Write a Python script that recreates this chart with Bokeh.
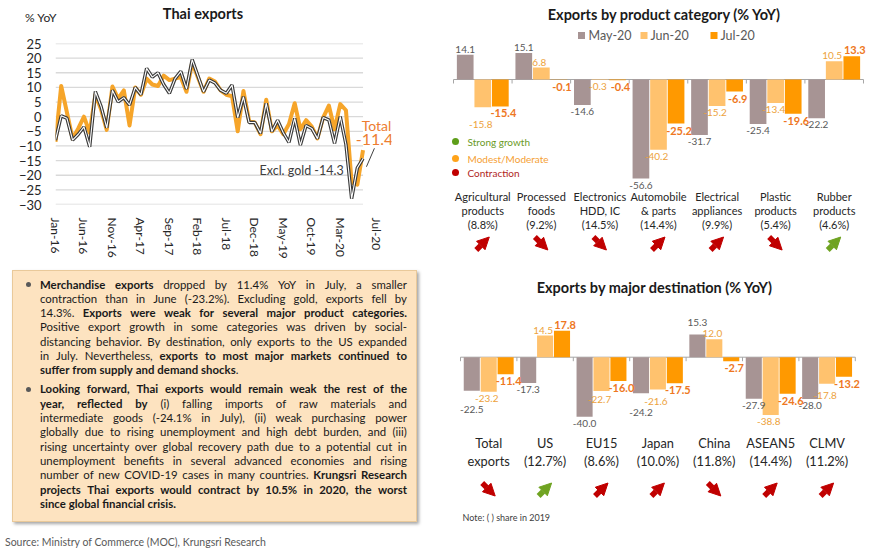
import html
import pandas as pd
from bokeh.plotting import figure
from bokeh.models import Range1d, FixedTicker, Arrow, NormalHead, Div
from bokeh.layouts import row, column
from bokeh.embed import file_html
from bokeh.resources import INLINE
from bokeh.core.properties import value

FONT = "Lato"

# ---------------- data ----------------
months = list(pd.date_range("2016-01-01", periods=55, freq="MS").strftime("%b-%y"))
total_exports = [
    -8.6, 10.5, 1.5, -7.5, -4.0, 0.0, -5.5, 7.5, 2.5, -4.5,
    10.3, 6.2, 9.0, -3.0, 10.0, 7.5, 13.0, 11.0, 10.5, 14.0,
    12.5, 13.0, 13.5, 8.5, 18.5, 13.5, 8.5, 13.0, 12.0, 9.0,
    7.5, 7.0, -5.0, 8.8, -1.5, -2.0, -6.0, 5.8, -5.0, -3.0,
    -6.0, -2.5, 4.6, -4.3, -1.2, -3.4, -7.4, -0.3, 3.8, -4.3,
    4.3, 2.2, -22.5, -23.2, -11.4]
excl_gold = [
    -8.0, 0.3, -0.5, -8.0, -6.0, -3.5, -10.3, 8.6, 3.5, -3.8,
    9.0, 5.1, 6.5, 4.0, 10.0, 7.5, 16.5, 13.5, 15.0, 11.0,
    8.0, 13.0, 15.5, 9.5, 19.5, 14.0, 8.5, 12.5, 11.5, 9.0,
    8.0, 10.8, -0.3, 6.8, -2.0, -2.0, -5.7, 4.6, -5.1, -1.2,
    -5.5, -8.8, -0.6, -9.7, -3.0, -4.0, -7.5, -0.3, -1.1, -9.1,
    0.0, -9.5, -28.0, -17.5, -14.3]

series_names = ["May-20", "Jun-20", "Jul-20"]

prod_names = [["Agricultural", "products"], ["Processed", "foods"], ["Electronics", "HDD, IC"],
              ["Automobile", "& parts"], ["Electrical", "appliances"], ["Plastic", "products"],
              ["Rubber", "products"]]
prod_share = ["8.8%", "9.2%", "14.5%", "14.4%", "9.9%", "5.4%", "4.6%"]
prod_may = [14.1, 15.1, -14.6, -56.6, -31.7, -25.4, -22.2]
prod_jun = [-15.8, 6.8, -0.3, -40.2, -15.2, -13.4, 10.5]
prod_jul = [-15.4, -0.1, -0.4, -25.2, -6.9, -19.6, 13.3]
prod_signal = ["Contraction"] * 6 + ["Strong growth"]
prod_dir = ["up", "down", "down", "up", "up", "down", "up"]

dest_names = [["Total", "exports"], ["US"], ["EU15"], ["Japan"], ["China"], ["ASEAN5"], ["CLMV"]]
dest_share = [None, "12.7%", "8.6%", "10.0%", "11.8%", "14.4%", "11.2%"]
dest_may = [-22.5, -17.3, -40.0, -24.2, 15.3, -27.9, -28.0]
dest_jun = [-23.2, 14.5, -22.7, -21.6, 12.0, -38.8, -17.8]
dest_jul = [-11.4, 17.8, -16.0, -17.5, -2.7, -24.6, -13.2]
dest_signal = ["Contraction", "Strong growth", "Contraction", "Contraction", "Contraction",
               "Contraction", "Contraction"]
dest_dir = ["down", "up", "up", "up", "down", "up", "up"]

signal_names = ["Strong growth", "Modest/Moderate", "Contraction"]

# ---------------- styles ----------------
C_MAY, C_JUN, C_JUL = "#A79494", "#FFC26E", "#FF9900"
T_MAY, T_JUN, T_JUL = "#595959", "#EDA23C", "#EE7722"
SIG_DOT = {"Strong growth": "#5E9E1A", "Modest/Moderate": "#FFA31A", "Contraction": "#C00000"}
SIG_TXT = {"Strong growth": "#6A9A1F", "Modest/Moderate": "#F5A034", "Contraction": "#B01E23"}
ARROW_C = {"Strong growth": "#6FA321", "Contraction": "#C00000", "Modest/Moderate": "#FFA31A"}
ORANGE = "#F6A52A"

LEFT_W, RIGHT_W = 440, 426

# ================= line chart header (html) =================
HH = 35
header = Div(text=(
    f'<div style="position:relative;width:{LEFT_W}px;height:{HH}px;font-family:{FONT};">'
    f'<div style="position:absolute;left:0;width:406px;top:6px;text-align:center;font-weight:700;'
    f'font-size:14.5px;line-height:16px;color:#1A1A1A;">Thai exports</div>'
    f'<div style="position:absolute;left:25px;top:11px;font-size:12px;line-height:14px;color:#262626;'
    f'white-space:nowrap;">% YoY</div></div>'), width=LEFT_W, height=HH, margin=0)

# ================= line chart =================
H1 = 231
BL, BR, BT, BB = 55, 49, 8, 62
n = len(months)
XMAX = 59
p1 = figure(width=LEFT_W, height=H1, x_range=Range1d(0, XMAX), y_range=Range1d(-30, 25),
            output_backend="svg", toolbar_location=None,
            min_border_left=BL, min_border_right=BR, min_border_top=BT, min_border_bottom=BB)
p1.grid.visible = False
p1.outline_line_color = None
sx = (LEFT_W - BL - BR) / XMAX
sy = (H1 - BT - BB) / 55.0
FL, FT = BL, HH + BT


def LX(img_x):
    return (img_x - FL) / sx


def LY(img_y):
    return 25 - (img_y - FT) / sy


yt = list(range(-30, 26, 5))
p1.segment(x0=[0] * len(yt), y0=yt, x1=[n - 1] * len(yt), y1=yt, line_color="#D9D9D9", line_width=1.3)
xs = list(range(n))
p1.line(xs, total_exports, line_color=ORANGE, line_width=4, line_join="round")
p1.line(xs, excl_gold, line_color="#3A3A3A", line_width=3.4)
p1.line(xs, excl_gold, line_color="white", line_width=1.1)
p1.line([n - 1 + 0.6, n - 1 + 2.0], [-17.1, -10.8], line_color="#404040", line_width=1)

p1.yaxis.ticker = FixedTicker(ticks=yt)
p1.yaxis.axis_line_color = None
p1.yaxis.major_tick_line_color = None
p1.yaxis.minor_tick_line_color = None
p1.yaxis.major_label_text_font = FONT
p1.yaxis.major_label_text_font_size = "13px"
p1.yaxis.major_label_text_color = "#262626"
p1.yaxis.major_label_standoff = 8

xt = list(range(0, n - 4, 5))
jul_pos = n + 1.3
p1.xaxis.ticker = FixedTicker(ticks=xt + [jul_pos])
ov = {t: months[t] for t in xt}
ov[jul_pos] = months[-1]
p1.xaxis.major_label_overrides = ov
p1.xaxis.major_label_orientation = "vertical"
p1.xaxis.axis_line_color = None
p1.xaxis.major_tick_line_color = None
p1.xaxis.minor_tick_line_color = None
p1.xaxis.major_label_text_font = FONT
p1.xaxis.major_label_text_font_size = "12px"
p1.xaxis.major_label_text_color = "#262626"
p1.xaxis.major_label_standoff = 7

p1.text(x=[LX(376)], y=[LY(125)], text=["Total"], text_align="center", text_baseline="middle",
        text_font=value(FONT), text_font_size="14px", text_color="#ED7D31")
p1.text(x=[LX(374)], y=[LY(139)], text=[f"{total_exports[-1]:.1f}"], text_align="center",
        text_baseline="middle", text_font=value(FONT), text_font_size="16px", text_color="#ED7D31")
p1.text(x=[LX(259)], y=[LY(170)], text=[f"Excl. gold {excl_gold[-1]:.1f}"], text_align="left",
        text_baseline="middle", text_font=value(FONT), text_font_size="12.5px", text_color="#404040")


# ================= bar panels =================
def text_w(t, fs, bold):
    w = 0.0
    for ch in t:
        w += 0.58 if ch.isdigit() else (0.36 if ch == "-" else 0.27)
    return w * fs * (1.04 if bold else 1.0)


def bar_panel(W, H, kx, group0_px, zero_py, ky, names, shares, may, jun, jul, signals, dirs,
              title, title_xy, line_pys, cat_size, arrow_py):
    x_start = -group0_px / kx
    x_end = x_start + W / kx
    p = figure(width=W, height=H, x_range=Range1d(x_start, x_end),
               y_range=Range1d(-(H - zero_py) / ky, zero_py / ky),
               x_axis_type=None, y_axis_type=None, output_backend="svg",
               toolbar_location=None, min_border=0)
    p.outline_line_color = None
    p.grid.visible = False

    def X(px):
        return x_start + px / kx

    def Y(py):
        return (zero_py - py) / ky

    ncat = len(may)
    centers = [i + 0.5 for i in range(ncat)]
    off, bw = 0.3, 0.285
    p.segment(x0=[0], y0=[0], x1=[ncat], y1=[0], line_color="#A6A6A6", line_width=1)
    p.segment(x0=list(range(ncat + 1)), y0=[0] * (ncat + 1), x1=list(range(ncat + 1)),
              y1=[-4 / ky] * (ncat + 1), line_color="#A6A6A6", line_width=1)
    specs = [(may, -off, C_MAY, T_MAY, False, 10, 0),
             (jun, 0.0, C_JUN, T_JUN, False, 10, -2),
             (jul, off, C_JUL, T_JUL, True, 11, 3)]
    for vals, o, c, tc, bold, fs, xo in specs:
        p.vbar(x=[ctr + o for ctr in centers], top=vals, width=bw, fill_color=c, line_color=None)

    # value labels, placed Jul -> Jun -> May, nudged away from earlier labels of the same group
    out = {k: {"pos": ([], [], []), "neg": ([], [], [])} for k in range(3)}
    for g in range(ncat):
        placed = []
        for k in (2, 1, 0):
            vals, o, c, tc, bold, fs, xo = specs[k]
            v = vals[g]
            txt = f"{v:.1f}"
            cx = (centers[g] + o - x_start) * kx + xo
            w = text_w(txt, fs, bold) - 1.0
            x0, x1 = cx - w / 2, cx + w / 2
            end = zero_py - v * ky
            if v < 0:
                top = end + 3
                for _ in range(6):
                    hits = [b for b in placed if b[0] < x1 and b[1] > x0 and b[2] < top + fs and b[3] > top]
                    if not hits:
                        break
                    top = max(b[3] for b in hits) + 1
                placed.append((x0, x1, top, top + fs))
                bx = out[k]["neg"]
                bx[0].append(centers[g] + o)
                bx[1].append(Y(top))
                bx[2].append(txt)
            else:
                bot = end - 2
                for _ in range(6):
                    hits = [b for b in placed if b[0] < x1 and b[1] > x0 and b[2] < bot and b[3] > bot - fs]
                    if not hits:
                        break
                    bot = min(b[2] for b in hits) - 1
                placed.append((x0, x1, bot - fs, bot))
                bx = out[k]["pos"]
                bx[0].append(centers[g] + o)
                bx[1].append(Y(bot))
                bx[2].append(txt)
    for k in range(3):
        vals, o, c, tc, bold, fs, xo = specs[k]
        for sign, base in (("pos", "bottom"), ("neg", "top")):
            xx, yy, tt = out[k][sign]
            if xx:
                p.text(x=xx, y=yy, text=tt, text_align="center", text_baseline=base, x_offset=xo,
                       text_color=tc, text_font=value(FONT), text_font_style="bold" if bold else "normal",
                       text_font_size=f"{fs}px")

    lines = []
    for nm, sh in zip(names, shares):
        ls = list(nm)
        if sh is not None:
            ls.append(f"({sh})")
        lines.append(ls)
    for k, py in enumerate(line_pys):
        xx, tt = [], []
        for ctr, ls in zip(centers, lines):
            if k < len(ls):
                xx.append(ctr)
                tt.append(ls[k])
        p.text(x=xx, y=[Y(py)] * len(xx), text=tt, text_align="center", text_baseline="middle",
               text_color="#262626", text_font=value(FONT), text_font_size=cat_size)
    dx, dy = 6.5 / kx, 6.5 / ky
    for ctr, s, d in zip(centers, signals, dirs):
        col = ARROW_C[s]
        cy = Y(arrow_py)
        if d == "up":
            xa, ya, xb, yb = ctr - dx, cy - dy, ctr + dx, cy + dy
        else:
            xa, ya, xb, yb = ctr - dx, cy + dy, ctr + dx, cy - dy
        p.add_layout(Arrow(end=NormalHead(size=12, fill_color=col, line_color=col),
                           x_start=xa, y_start=ya, x_end=xb, y_end=yb,
                           line_color=col, line_width=5.5))
    p.text(x=[X(title_xy[0])], y=[Y(title_xy[1])], text=[title], text_align="center",
           text_baseline="middle", text_color="#1A1A1A", text_font=value(FONT),
           text_font_style="bold", text_font_size="14.5px")
    return p, X, Y


H2 = 270
p2, X2, Y2 = bar_panel(RIGHT_W, H2, 58.57, 13, 79, 1.75, prod_names, prod_share, prod_may, prod_jun,
                       prod_jul, prod_signal, prod_dir, "Exports by product category (% YoY)", (224, 14),
                       [196, 210, 224], "11px", 243)
for nm, c, sq_px, tx_px in zip(series_names, [C_MAY, C_JUN, C_JUL], [141, 203.5, 273.5], [148, 210, 280]):
    p2.scatter(x=[X2(sq_px)], y=[Y2(35)], marker="square", size=7, fill_color=c, line_color=None)
    p2.text(x=[X2(tx_px)], y=[Y2(35)], text=[nm], text_align="left", text_baseline="middle",
            text_color="#595959", text_font=value(FONT), text_font_size="12.5px")
for s, py in zip(signal_names, [141, 158, 172]):
    p2.scatter(x=[X2(15)], y=[Y2(py)], marker="circle", size=7, fill_color=SIG_DOT[s], line_color=None)
    p2.text(x=[X2(27)], y=[Y2(py)], text=[s], text_align="left", text_baseline="middle",
            text_color=SIG_TXT[s], text_font=value(FONT), text_font_size="10px")

H3 = 282
p3, X3, Y3 = bar_panel(RIGHT_W, H3, 56.4, 20, 86.7, 1.49, dest_names, dest_share, dest_may, dest_jun,
                       dest_jul, dest_signal, dest_dir, "Exports by major destination (% YoY)", (214.5, 17),
                       [172.7, 190], "12.8px", 219)
p3.text(x=[X3(22)], y=[Y3(246.7)], text=["Note: (  ) share in 2019"], text_align="left",
        text_baseline="middle", text_color="#404040", text_font=value(FONT), text_font_size="9px")

# ================= text box =================
para1 = [
    [("Merchandise exports", True), (" dropped by 11.4% YoY in July, a smaller", False)],
    [("contraction than in June (-23.2%). Excluding gold, exports fell by", False)],
    [("14.3%. ", False), ("Exports were weak for several major product categories.", True)],
    [("Positive export growth in some categories was driven by social-", False)],
    [("distancing behavior. By destination, only exports to the US expanded", False)],
    [("in July. Nevertheless, ", False), ("exports to most major markets continued to", True)],
    [("suffer from supply and demand shocks", True), (".", False)],
]
para2 = [
    [("Looking forward, Thai exports would remain weak the rest of the", True)],
    [("year, reflected by", True), (" (i) falling imports of raw materials and", False)],
    [("intermediate goods (-24.1% in July), (ii) weak purchasing power", False)],
    [("globally due to rising unemployment and high debt burden, and (iii)", False)],
    [("rising uncertainty over global recovery path due to a potential cut in", False)],
    [("unemployment benefits in several advanced economies and rising", False)],
    [("number of new COVID-19 cases in many countries. ", False), ("Krungsri Research", True)],
    [("projects Thai exports would contract by 10.5% in 2020, the worst", True)],
    [("since global financial crisis.", True)],
]
source_text = "Source: Ministry of Commerce (MOC), Krungsri Research"

LH = 14.33


def line_html(segs, last):
    tokens, cur = [], ""
    for text, bold in segs:
        parts = text.split(" ")
        for j, part in enumerate(parts):
            if j > 0 and cur:
                tokens.append(cur)
                cur = ""
            if part:
                w = 700 if bold else 400
                cur += f'<span style="font-weight:{w}">{html.escape(part)}</span>'
    if cur:
        tokens.append(cur)
    words = "".join(f"<span>{t}</span>" for t in tokens)
    if last:
        st = "display:flex;justify-content:flex-start;column-gap:0.26em;"
    else:
        st = "display:flex;justify-content:space-between;"
    return f'<div style="{st}white-space:nowrap;height:{LH}px;line-height:{LH}px;">{words}</div>'


def para_html(lines, mt):
    body = "".join(line_html(s, k == len(lines) - 1) for k, s in enumerate(lines))
    bullet = ('<div style="position:absolute;left:13px;top:4.7px;width:5px;height:5px;'
              'border-radius:50%;background:#595959;"></div>')
    return f'<div style="position:relative;padding-left:27px;margin-top:{mt}px;">{bullet}{body}</div>'


HT = 286
box = (f'<div style="position:absolute;left:12px;top:3.5px;width:405px;height:252px;box-sizing:border-box;'
       f'background:#FDE3C0;border:1px solid #E9C99A;box-shadow:2px 2px 3px rgba(0,0,0,0.35);'
       f'padding:7px 9px 0 0;font-family:{FONT};font-size:11.4px;color:#1A1A1A;">'
       f'{para_html(para1, 0)}{para_html(para2, 4.7)}</div>')
src = (f'<div style="position:absolute;left:5px;top:270px;font-family:{FONT};font-size:10.5px;'
       f'line-height:13px;color:#595959;white-space:nowrap;">{html.escape(source_text)}</div>')
div = Div(text=f'<div style="position:relative;width:{LEFT_W}px;height:{HT}px;">{box}{src}</div>',
          width=LEFT_W, height=HT, margin=0)

layout = row(column(header, p1, div), column(p2, p3))
open("out.html", "w").write(file_html(layout, INLINE))
